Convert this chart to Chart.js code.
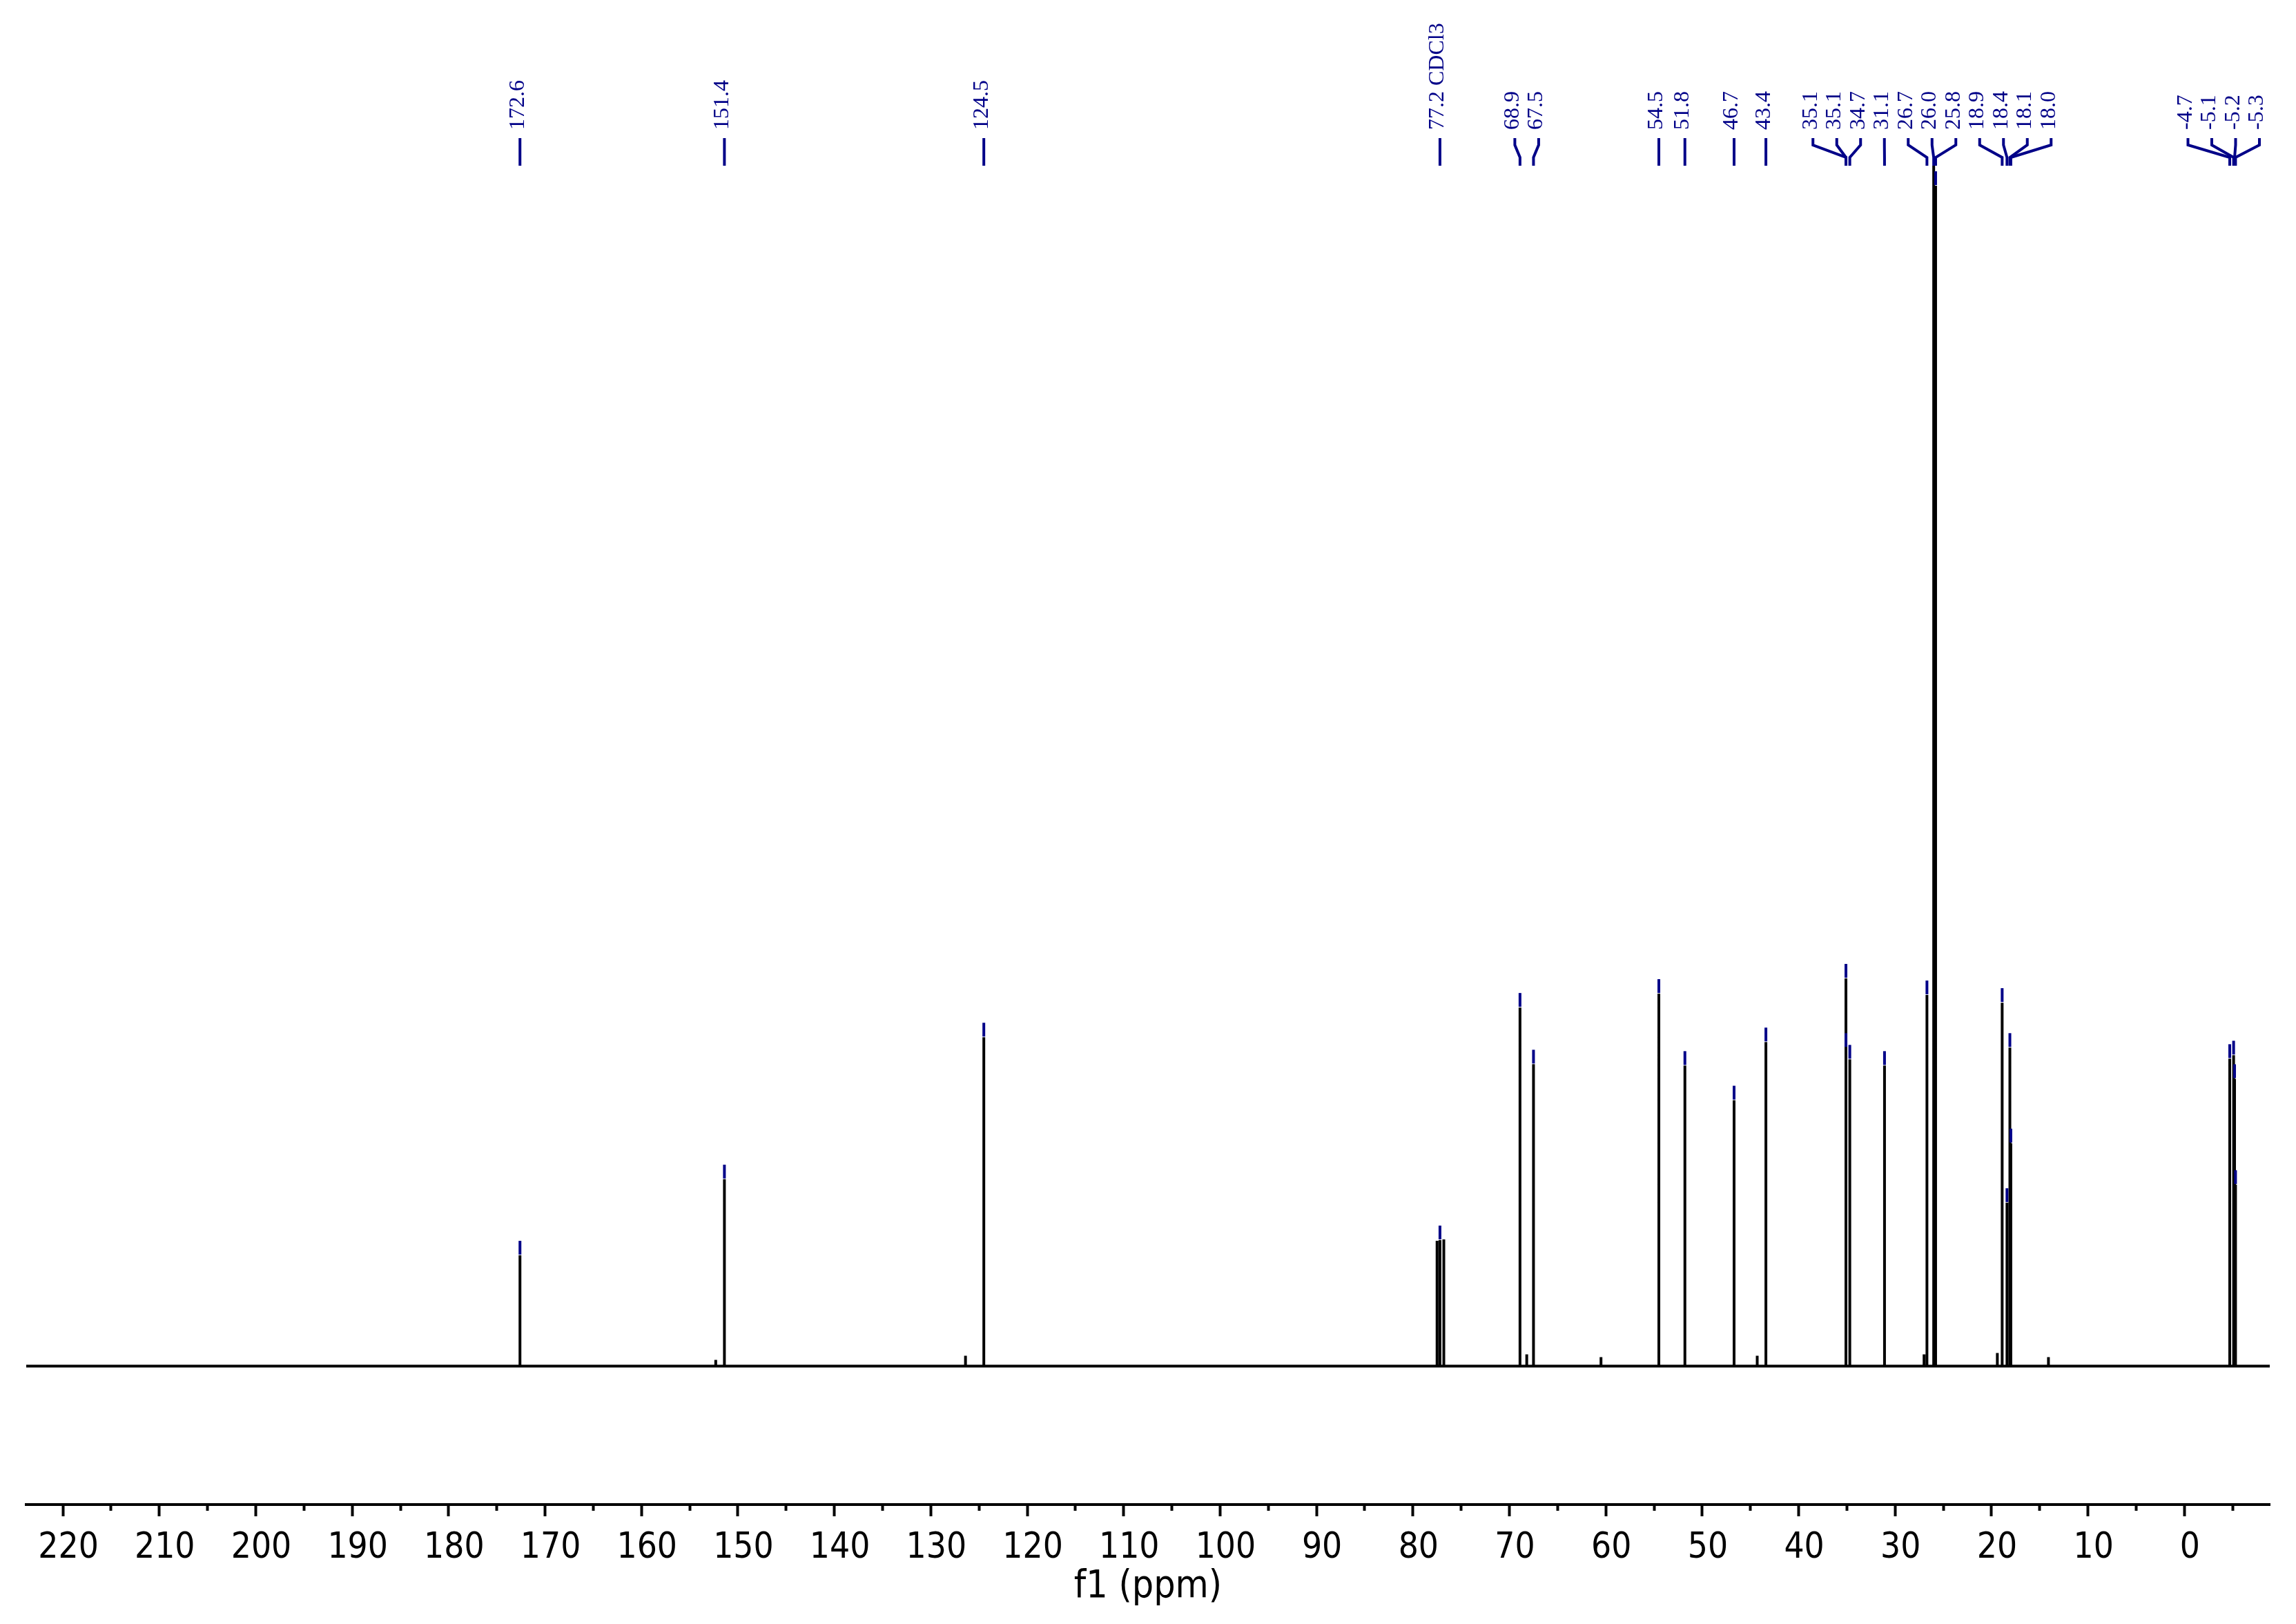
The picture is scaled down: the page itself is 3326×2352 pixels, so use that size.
<!DOCTYPE html>
<html>
<head>
<meta charset="utf-8">
<script src="https://cdn.jsdelivr.net/npm/chart.js@4.4.1/dist/chart.umd.min.js"></script>
<style>
  body { margin: 0; background: #fff; }
  #wrap { width: 3326px; height: 2352px; }
</style>
</head>
<body>
<div id="wrap"><canvas id="myChart"></canvas></div>
<script>
// picked peaks (ppm), their labels and heights (arbitrary intensity units)
const peakPpm = [172.6, 151.4, 124.5, 77.2, 68.9, 67.5, 54.5, 51.8, 46.7, 43.4,
                 35.1, 35.1, 34.7, 31.1, 26.7, 26.0, 25.8, 18.9, 18.4, 18.1, 18.0,
                 -4.7, -5.1, -5.2, -5.3];
const peakLabels = ['172.6', '151.4', '124.5', '77.2 CDCl3', '68.9', '67.5', '54.5', '51.8', '46.7', '43.4',
                    '35.1', '35.1', '34.7', '31.1', '26.7', '26.0', '25.8', '18.9', '18.4', '18.1', '18.0',
                    '-4.7', '-5.1', '-5.2', '-5.3'];
const peakHeight = [160, 270, 475, 182, 518, 436, 538, 434, 384, 468,
                    560, 460, 443, 434, 536, 1900, 1705, 525, 236, 460, 322,
                    444, 449, 415, 262];

// outer lines of the CDCl3 triplet
const solventPpm = [77.5, 76.8];
const solventHeight = [181, 183];

// small unpicked peaks
const minorPpm = [152.3, 126.4, 68.2, 60.5, 44.3, 27.0, 19.4, 14.1];
const minorHeight = [9, 15, 17, 13, 15, 17, 19, 13];

// axis range and ticks
const ppmMax = 223.8;
const ppmMin = -8.85;
const tickStep = 5;
const labelStep = 10;

const labelColor = '#000088';

function buildSpectrum(){
    let peaks = [];
    peakPpm.forEach((p, i) => peaks.push([p, peakHeight[i]]));
    solventPpm.forEach((p, i) => peaks.push([p, solventHeight[i]]));
    minorPpm.forEach((p, i) => peaks.push([p, minorHeight[i]]));
    peaks.sort((a, b) => b[0] - a[0]);

    let pts = [{x: ppmMax, y: 0}];
    peaks.forEach(pk => {
        pts.push({x: pk[0], y: 0});
        pts.push({x: pk[0], y: pk[1]});
        pts.push({x: pk[0], y: 0});
    });
    pts.push({x: ppmMin, y: 0});
    return pts;
}

// spread overlapping labels into clusters centred on their peaks
function placeLabels(xs, gap, lo, hi){
    let order = xs.map((x, i) => i).sort((a, b) => xs[a] - xs[b]);
    let clusters = order.map(i => ({members: [i], center: xs[i]}));
    let merged = true;
    while (merged) {
        merged = false;
        for (let k = 0; k < clusters.length - 1; k++) {
            let a = clusters[k], b = clusters[k + 1];
            let aRight = a.center + (a.members.length - 1) / 2 * gap;
            let bLeft = b.center - (b.members.length - 1) / 2 * gap;
            if (aRight + gap > bLeft) {
                let m = a.members.concat(b.members);
                let c = m.reduce((s, i) => s + xs[i], 0) / m.length;
                clusters.splice(k, 2, {members: m, center: c});
                merged = true;
                break;
            }
        }
    }
    let pos = new Array(xs.length);
    clusters.forEach(c => {
        let n = c.members.length;
        let start = c.center - (n - 1) / 2 * gap;
        if (start + (n - 1) * gap > hi) start = hi - (n - 1) * gap;
        if (start < lo) start = lo;
        c.members.forEach((i, j) => pos[i] = start + j * gap);
    });
    return pos;
}

const peakAnnotations = {
    id: 'peakAnnotations',
    afterDatasetsDraw(chart){
        const c = chart.ctx;
        const xs = chart.scales.x;
        const ys = chart.scales.y;
        const area = chart.chartArea;
        const top = area.top;

        const px = peakPpm.map(p => xs.getPixelForValue(p));
        const lx = placeLabels(px, 34.5, area.left + 15, area.right - 15);

        // markers on top of each picked peak
        c.save();
        c.fillStyle = labelColor;
        px.forEach((x, i) => {
            const yTop = ys.getPixelForValue(peakHeight[i]);
            if (yTop - 21 < top) return;
            c.fillRect(x - 2, yTop - 21, 4, 20);
        });

        // connectors
        c.strokeStyle = labelColor;
        c.lineWidth = 4;
        c.lineJoin = 'miter';
        px.forEach((x, i) => {
            c.beginPath();
            c.moveTo(lx[i], top - 40);
            c.lineTo(lx[i], top - 30);
            c.lineTo(x, top - 12);
            c.lineTo(x, top);
            c.stroke();
        });

        // rotated labels
        c.font = '32px "Liberation Serif", serif';
        c.textAlign = 'left';
        c.textBaseline = 'middle';
        peakLabels.forEach((t, i) => {
            c.save();
            c.translate(lx[i] - 3, top - 52);
            c.rotate(-Math.PI / 2);
            c.fillText(t, 0, 0);
            c.restore();
        });
        c.restore();
    }
};

function createChart(){

    const ctx = document.getElementById('myChart');

    const data = {
        datasets: [
            {
            label: 'f1',
            data: buildSpectrum(),
            borderColor: '#000000',
            borderWidth: 4,
            pointRadius: 0,
            tension: 0,
            fill: false,
            },
        ]
    };

    const config = {
        type: 'line',
        data: data,
        plugins: [peakAnnotations],
        options: {
            responsive: true,
            maintainAspectRatio: false,
            animation: false,
            parsing: false,
            layout: {
                padding: {top: 240, left: 38, right: 38, bottom: 26}
            },
            plugins: {
                legend: {display: false},
                tooltip: {enabled: false}
            },
            scales: {
                x: {
                    type: 'linear',
                    reverse: true,
                    min: ppmMin,
                    max: ppmMax,
                    border: {display: true, color: '#000', width: 4},
                    grid: {
                        drawOnChartArea: false,
                        drawTicks: true,
                        tickLength: 17,
                        tickWidth: 4,
                        tickColor: '#000',
                        tickBorderDash: c => (c.tick && Math.abs(c.tick.value % labelStep) > 1e-6) ? [7, 100] : []
                    },
                    ticks: {
                        stepSize: tickStep,
                        includeBounds: false,
                        autoSkip: false,
                        maxRotation: 0,
                        padding: 21,
                        labelOffset: 8,
                        color: '#000',
                        font: {
                            family: '"DejaVu Sans Condensed", "Liberation Sans", sans-serif',
                            size: 51,
                            lineHeight: 1
                        },
                        callback: v => Math.abs(v % labelStep) < 1e-6 ? String(Math.round(v)) : ''
                    },
                    title: {
                        display: true,
                        text: 'f1 (ppm)',
                        color: '#000',
                        padding: {top: -18, bottom: 0},
                        font: {
                            family: '"DejaVu Sans Condensed", "Liberation Sans", sans-serif',
                            size: 55,
                            lineHeight: 1
                        }
                    }
                },
                y: {
                    display: false,
                    min: -200,
                    max: 1734
                }
            }
        }
    };

    new Chart(ctx, config);
}

createChart();
</script>
</body>
</html>
